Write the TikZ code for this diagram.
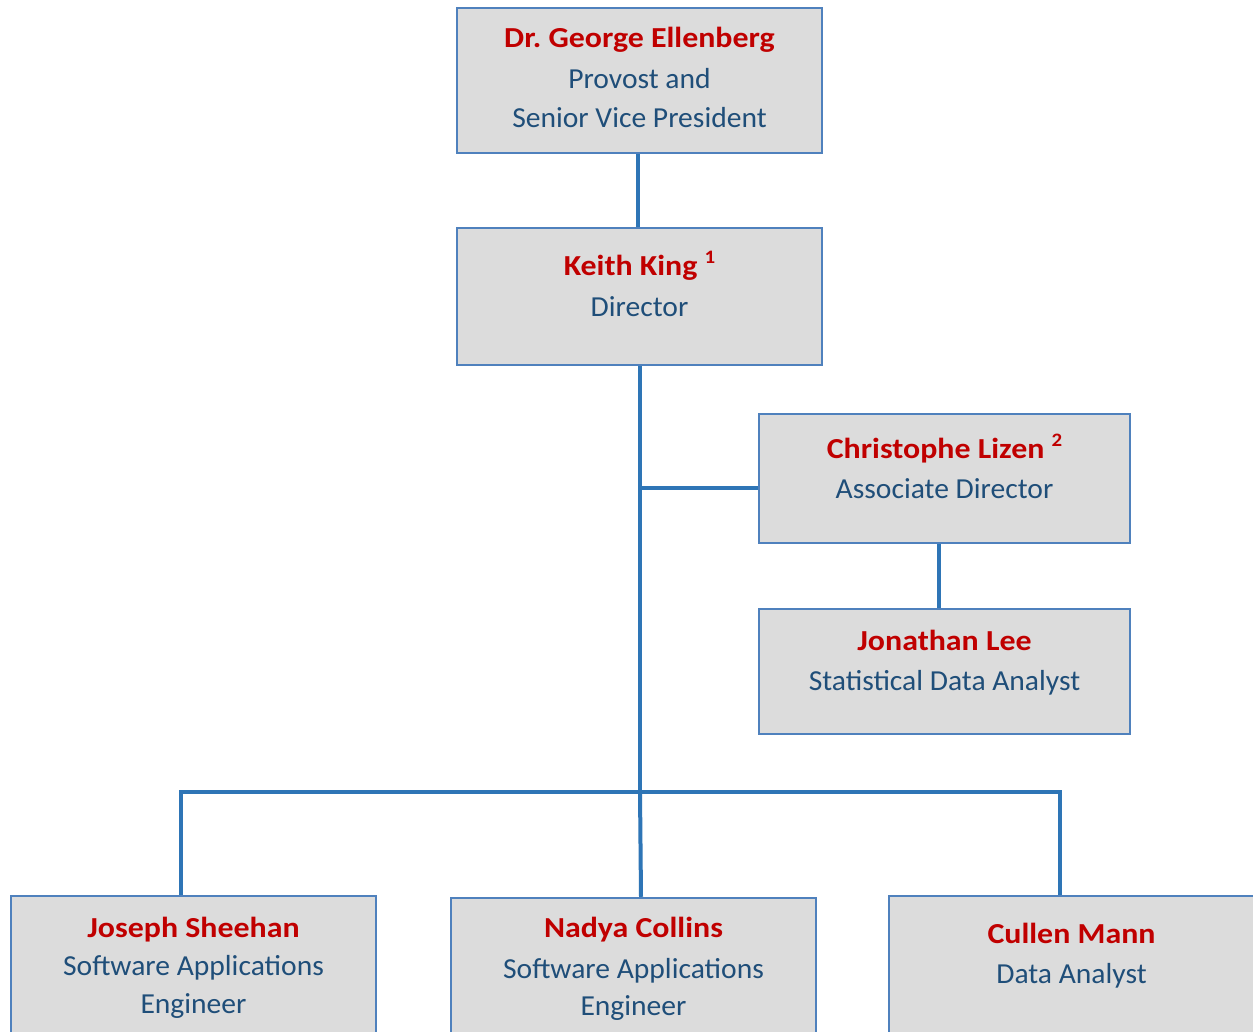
\documentclass[tikz,border=0pt]{standalone}
\usepackage{fontspec}
\setmainfont{Carlito}[FakeStretch=1.02]
\newfontfamily\namefont{Carlito}[FakeStretch=1.1]
\definecolor{boxline}{HTML}{4F81BD}
\definecolor{boxfill}{HTML}{DCDCDC}
\definecolor{connline}{HTML}{2E75B6}
\definecolor{namered}{HTML}{C00000}
\definecolor{titleblue}{HTML}{1F4E79}
\newcommand{\supnum}[1]{\raisebox{0.4em}{\fontsize{19}{19}\selectfont #1}}
\tikzset{
  box/.style={draw=boxline, fill=boxfill, line width=2.5pt, inner sep=0pt},
  nametxt/.style={anchor=base, inner sep=0pt, text=namered, font=\namefont\fontsize{29}{40}\selectfont\bfseries},
  titletxt/.style={anchor=base, inner sep=0pt, text=titleblue, font=\fontsize{29}{40}\selectfont},
  conn/.style={draw=connline, line width=4pt}
}
\begin{document}
\begin{tikzpicture}[x=1pt,y=-1pt]
\clip (0,0) rectangle (1253,1031);
\fill[white] (0,0) rectangle (1253,1031);
% boxes
\node[box, minimum width=365pt, minimum height=145pt] (pv) at (639.5,80.5) {};
\node[box, minimum width=365pt, minimum height=137pt] (kk) at (639.5,296.5) {};
\node[box, minimum width=371pt, minimum height=129pt] (cl) at (944.5,478.5) {};
\node[box, minimum width=371pt, minimum height=125pt] (jl) at (944.5,671.5) {};
\node[box, minimum width=365pt, minimum height=200pt] (js) at (193.5,996) {};
\node[box, minimum width=365pt, minimum height=200pt] (nc) at (633.5,998) {};
\node[box, minimum width=365pt, minimum height=200pt] (cm) at (1071.5,996) {};
% texts
\node[nametxt] (pvn) at (639.5,47) {Dr.\ George Ellenberg};
\node[titletxt] (pvt1) at (639.5,88) {Provost and};
\node[titletxt] (pvt2) at (639.5,127) {Senior Vice President};
\node[nametxt] (kkn) at (639.5,275) {Keith King \supnum{1}};
\node[titletxt] (kkt) at (639.5,316) {Director};
\node[nametxt] (cln) at (944.5,458) {Christophe Lizen \supnum{2}};
\node[titletxt] (clt) at (944.5,498) {Associate Director};
\node[nametxt] (jln) at (944.5,650) {Jonathan Lee};
\node[titletxt] (jlt) at (944.5,690) {Statistical Data Analyst};
\node[nametxt] (jsn) at (193.5,937) {Joseph Sheehan};
\node[titletxt] (jst1) at (193.5,975) {Software Applications};
\node[titletxt] (jst2) at (193.5,1013) {Engineer};
\node[nametxt] (ncn) at (633.5,937) {Nadya Collins};
\node[titletxt] (nct1) at (633.5,978) {Software Applications};
\node[titletxt] (nct2) at (633.5,1015) {Engineer};
\node[nametxt] (cmn) at (1071.5,943) {Cullen Mann};
\node[titletxt] (cmt) at (1071.5,983) {Data Analyst};
% connectors
\coordinate (bus) at (640,792);
\coordinate (clj) at (640,488);
\draw[conn] ([xshift=-1.5pt]pv.south) -- ([xshift=-1.5pt]kk.north);
\draw[conn] ([xshift=0.5pt]kk.south) -- (bus);
\draw[conn] (clj) -- (clj -| cl.west);
\draw[conn] ([xshift=-5.5pt]cl.south) -- ([xshift=-5.5pt]jl.north);
\draw[conn] ([xshift=-12.5pt]js.north) |- (bus) -| ([xshift=-11.5pt]cm.north);
\draw[conn] (bus) -- ([xshift=7.5pt]nc.north);
\end{tikzpicture}
\end{document}
